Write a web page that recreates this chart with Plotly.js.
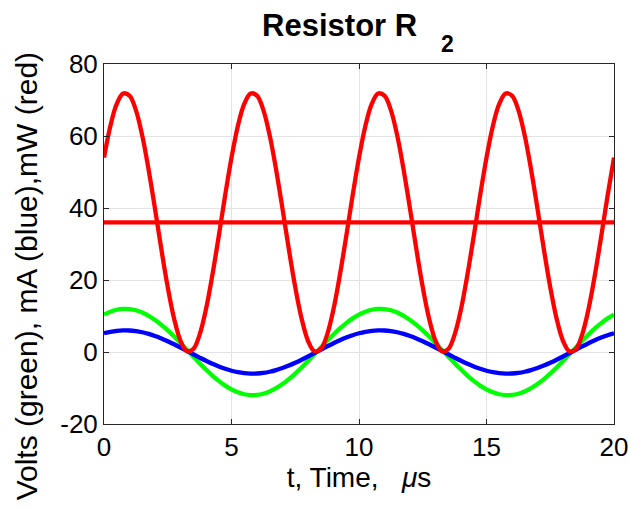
<!DOCTYPE html>
<html>
<head>
<meta charset="utf-8">
<script src="https://cdn.plot.ly/plotly-3.0.1.min.js"></script>
<style>html,body{margin:0;padding:0;background:#fff;}#chart{width:629px;height:510px;}</style>
</head>
<body>
<div id="chart"></div>
<script>
// time, microseconds
const timeUs = [0,0.25,0.5,0.75,1,1.25,1.5,1.75,2,2.25,2.5,2.75,3,3.25,3.5,3.75,4,4.25,4.5,4.75,
5,5.25,5.5,5.75,6,6.25,6.5,6.75,7,7.25,7.5,7.75,8,8.25,8.5,8.75,9,9.25,9.5,9.75,
10,10.25,10.5,10.75,11,11.25,11.5,11.75,12,12.25,12.5,12.75,13,13.25,13.5,13.75,14,14.25,14.5,14.75,
15,15.25,15.5,15.75,16,16.25,16.5,16.75,17,17.25,17.5,17.75,18,18.25,18.5,18.75,19,19.25,19.5,19.75,20];
// voltage (green), V
const volts = [10.39,11.20,11.74,11.98,11.93,11.59,10.96,10.06,8.92,7.55,6.00,4.30,2.49,0.63,-1.25,-3.11,-4.88,-6.54,-8.03,-9.33,
-10.39,-11.20,-11.74,-11.98,-11.93,-11.59,-10.96,-10.06,-8.92,-7.55,-6.00,-4.30,-2.49,-0.63,1.25,3.11,4.88,6.54,8.03,9.33,
10.39,11.20,11.74,11.98,11.93,11.59,10.96,10.06,8.92,7.55,6.00,4.30,2.49,0.63,-1.25,-3.11,-4.88,-6.54,-8.03,-9.33,
-10.39,-11.20,-11.74,-11.98,-11.93,-11.59,-10.96,-10.06,-8.92,-7.55,-6.00,-4.30,-2.49,-0.63,1.25,3.11,4.88,6.54,8.03,9.33,10.39];
// current (blue), mA
const milliamps = [5.20,5.60,5.87,5.99,5.97,5.80,5.48,5.03,4.46,3.78,3.00,2.15,1.25,0.31,-0.63,-1.55,-2.44,-3.27,-4.01,-4.66,
-5.20,-5.60,-5.87,-5.99,-5.97,-5.80,-5.48,-5.03,-4.46,-3.78,-3.00,-2.15,-1.25,-0.31,0.63,1.55,2.44,3.27,4.01,4.66,
5.20,5.60,5.87,5.99,5.97,5.80,5.48,5.03,4.46,3.78,3.00,2.15,1.25,0.31,-0.63,-1.55,-2.44,-3.27,-4.01,-4.66,
-5.20,-5.60,-5.87,-5.99,-5.97,-5.80,-5.48,-5.03,-4.46,-3.78,-3.00,-2.15,-1.25,-0.31,0.63,1.55,2.44,3.27,4.01,4.66,5.20];
// instantaneous power (red), mW
const milliwatts = [54.0,62.8,68.9,71.8,71.2,67.2,60.1,50.6,39.8,28.5,18.0,9.25,3.11,0.20,0.79,4.82,11.9,21.4,32.2,43.5,
54.0,62.8,68.9,71.8,71.2,67.2,60.1,50.6,39.8,28.5,18.0,9.25,3.11,0.20,0.79,4.82,11.9,21.4,32.2,43.5,
54.0,62.8,68.9,71.8,71.2,67.2,60.1,50.6,39.8,28.5,18.0,9.25,3.11,0.20,0.79,4.82,11.9,21.4,32.2,43.5,
54.0,62.8,68.9,71.8,71.2,67.2,60.1,50.6,39.8,28.5,18.0,9.25,3.11,0.20,0.79,4.82,11.9,21.4,32.2,43.5,54.0];
// average power, mW
const avgTime = [0, 20];
const avgPower = [36, 36];

const xTicks = [0, 5, 10, 15, 20];
const yTicks = [-20, 0, 20, 40, 60, 80];

const FONT = 'Liberation Sans, Arial, Helvetica, sans-serif';
const lw = 4.3;

const traces = [
  {x: timeUs, y: volts, mode: 'lines', line: {color: '#00ff00', width: lw, shape: 'spline'}, hoverinfo: 'skip'},
  {x: timeUs, y: milliamps, mode: 'lines', line: {color: '#0000ff', width: lw, shape: 'spline'}, hoverinfo: 'skip'},
  {x: timeUs, y: milliwatts, mode: 'lines', line: {color: '#ff0000', width: lw, shape: 'spline'}, hoverinfo: 'skip'},
  {x: avgTime, y: avgPower, mode: 'lines', line: {color: '#ff0000', width: lw}, hoverinfo: 'skip'}
];

const axisCommon = {
  showline: true, mirror: 'ticks', linecolor: '#262626', linewidth: 1,
  ticks: 'inside', ticklen: 5, tickcolor: '#262626', tickwidth: 1,
  showgrid: true, gridcolor: '#e3e3e3', gridwidth: 1,
  zeroline: false, tickfont: {family: FONT, size: 26, color: '#000'}
};

const layout = {
  width: 629, height: 510,
  margin: {l: 104, r: 15, t: 64, b: 86},
  paper_bgcolor: '#fff', plot_bgcolor: '#fff',
  showlegend: false,
  title: {text: '<b>Resistor R</b>', font: {family: FONT, size: 31, color: '#000'},
          xref: 'paper', x: 0.462, xanchor: 'center', yref: 'container', y: 0.951, yanchor: 'middle'},
  xaxis: Object.assign({}, axisCommon, {
    range: [0, 20], tickvals: xTicks, ticktext: xTicks.map(String),
    title: {text: 't, Time,   <i>μ</i>s', font: {family: FONT, size: 28, color: '#000'}, standoff: 5}
  }),
  yaxis: Object.assign({}, axisCommon, {
    range: [-20, 80], tickvals: yTicks, ticktext: yTicks.map(String)
  }),
  annotations: [
    {text: '<b>2</b>', xref: 'paper', yref: 'paper', x: 0.674, y: 1.056, xanchor: 'center', yanchor: 'middle',
     showarrow: false, font: {family: FONT, size: 23, color: '#000'}},
    {text: 'Volts (green), mA (blue),mW (red)', xref: 'paper', yref: 'paper', x: -0.153, y: 0.41,
     xanchor: 'center', yanchor: 'middle', textangle: -90, showarrow: false,
     font: {family: FONT, size: 30, color: '#000'}}
  ]
};

Plotly.newPlot('chart', traces, layout, {staticPlot: true, displayModeBar: false});
</script>
</body>
</html>
